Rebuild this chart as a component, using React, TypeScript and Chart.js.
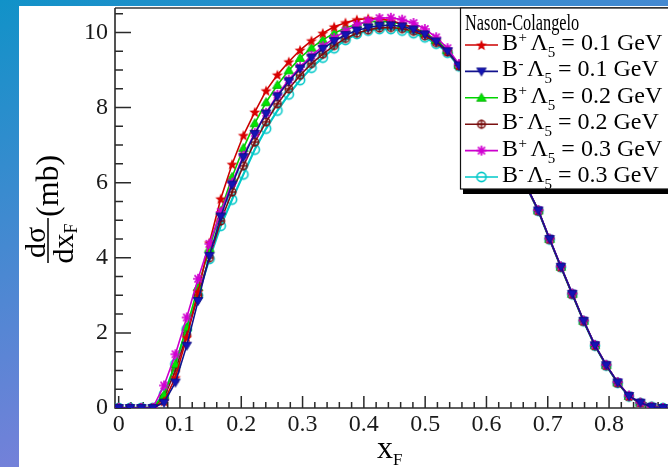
import React, { useEffect, useRef } from 'react';
import { Chart, registerables } from 'chart.js';
Chart.register(...registerables);

// x_F sampling points
const xF = [0, 0.0185, 0.037, 0.0555, 0.074, 0.0925, 0.111, 0.1295, 0.148, 0.1665, 0.185, 0.2035, 0.222, 0.2405, 0.259, 0.2775, 0.296, 0.3145, 0.333, 0.3515, 0.37, 0.3885, 0.407, 0.4255, 0.444, 0.4625, 0.481, 0.4995, 0.518, 0.5365, 0.555, 0.5735, 0.592, 0.6105, 0.629, 0.6475, 0.666, 0.6845, 0.703, 0.7215, 0.74, 0.7585, 0.777, 0.7955, 0.814, 0.8325, 0.851, 0.8695, 0.888, 0.9065];

const bPlus01 = [0, 0, 0, 0, 0.18, 0.81, 1.88, 3.10, 4.40, 5.57, 6.49, 7.26, 7.88, 8.45, 8.87, 9.22, 9.53, 9.78, 9.98, 10.15, 10.26, 10.34, 10.37, 10.36, 10.31, 10.23, 10.12, 9.97, 9.77, 9.50, 9.12, 8.64, 8.13, 7.59, 7.04, 6.47, 5.88, 5.26, 4.50, 3.76, 3.04, 2.32, 1.67, 1.14, 0.68, 0.32, 0.14, 0.03, 0, 0];
const bMinus01 = [0, 0, 0, 0, 0.14, 0.68, 1.66, 2.85, 4.05, 5.10, 5.95, 6.68, 7.30, 7.84, 8.30, 8.70, 9.04, 9.33, 9.57, 9.77, 9.93, 10.05, 10.13, 10.18, 10.19, 10.16, 10.08, 9.95, 9.76, 9.50, 9.12, 8.64, 8.13, 7.59, 7.04, 6.47, 5.88, 5.26, 4.50, 3.76, 3.04, 2.32, 1.67, 1.14, 0.68, 0.32, 0.14, 0.03, 0, 0];
const bPlus02 = [0, 0, 0, 0, 0.35, 1.17, 2.15, 3.22, 4.25, 5.25, 6.15, 6.92, 7.58, 8.14, 8.60, 8.99, 9.32, 9.59, 9.80, 9.98, 10.12, 10.22, 10.28, 10.30, 10.28, 10.22, 10.13, 9.99, 9.80, 9.53, 9.14, 8.65, 8.13, 7.59, 7.04, 6.47, 5.88, 5.26, 4.50, 3.76, 3.04, 2.32, 1.67, 1.14, 0.68, 0.32, 0.14, 0.03, 0, 0];
const bMinus02 = [0, 0, 0, 0, 0.28, 1.00, 1.95, 3.00, 4.00, 4.98, 5.75, 6.45, 7.08, 7.62, 8.10, 8.50, 8.86, 9.17, 9.42, 9.65, 9.84, 9.98, 10.07, 10.12, 10.13, 10.10, 10.03, 9.91, 9.73, 9.48, 9.11, 8.63, 8.12, 7.58, 7.03, 6.46, 5.87, 5.25, 4.49, 3.75, 3.03, 2.31, 1.66, 1.13, 0.67, 0.31, 0.13, 0.03, 0, 0];
const bPlus03 = [0, 0, 0, 0, 0.60, 1.43, 2.41, 3.44, 4.37, 5.22, 6.00, 6.72, 7.32, 7.86, 8.34, 8.74, 9.08, 9.38, 9.63, 9.85, 10.04, 10.20, 10.31, 10.38, 10.39, 10.34, 10.25, 10.09, 9.87, 9.58, 9.16, 8.66, 8.14, 7.60, 7.05, 6.48, 5.89, 5.27, 4.51, 3.77, 3.05, 2.33, 1.68, 1.15, 0.69, 0.33, 0.14, 0.03, 0, 0];
const bMinus03 = [0, 0, 0, 0, 0.37, 1.17, 2.10, 3.00, 3.97, 4.85, 5.55, 6.22, 6.88, 7.44, 7.92, 8.35, 8.73, 9.06, 9.33, 9.58, 9.80, 9.96, 10.05, 10.09, 10.09, 10.05, 9.98, 9.87, 9.70, 9.46, 9.10, 8.62, 8.12, 7.58, 7.03, 6.46, 5.87, 5.25, 4.49, 3.75, 3.03, 2.31, 1.66, 1.13, 0.67, 0.31, 0.13, 0.03, 0, 0];

const seriesValues = [bPlus01, bMinus01, bPlus02, bMinus02, bPlus03, bMinus03];
const charges = ['+', '-', '+', '-', '+', '-'];
const lambdas = ['0.1', '0.1', '0.2', '0.2', '0.3', '0.3'];
const lineColors = ['#cc0000', '#12128e', '#00d400', '#7a1010', '#cc00cc', '#00c8c8'];
const markerKinds = ['star5', 'triDown', 'triUp', 'circlePlus', 'asterisk', 'circle'];
const drawOrder = [2, 0, 3, 4, 1, 5];
const legendTitle = 'Nason-Colangelo';

const yMajor = [0, 2, 4, 6, 8, 10];
const FONT = '"Liberation Serif", "Times New Roman", serif';

function makeMarker(kind: string): HTMLCanvasElement {
  const s = 14;
  const c = document.createElement('canvas');
  c.width = s; c.height = s;
  const g = c.getContext('2d') as CanvasRenderingContext2D;
  const m = s / 2;
  g.lineJoin = 'round';
  if (kind === 'star5') {
    g.beginPath();
    for (let i = 0; i < 10; i++) {
      const r = i % 2 === 0 ? 5.8 : 2.5;
      const a = -Math.PI / 2 + (i * Math.PI) / 5;
      g.lineTo(m + r * Math.cos(a), m + 0.5 + r * Math.sin(a));
    }
    g.closePath();
    g.fillStyle = '#d80000';
    g.fill();
  } else if (kind === 'triDown') {
    g.beginPath();
    g.moveTo(m - 4.8, m - 3.4); g.lineTo(m + 4.8, m - 3.4); g.lineTo(m, m + 4.6);
    g.closePath();
    g.fillStyle = '#1414b4'; g.fill();
    g.strokeStyle = '#0a0a80'; g.lineWidth = 0.8; g.stroke();
  } else if (kind === 'triUp') {
    g.beginPath();
    g.moveTo(m - 4.8, m + 3.4); g.lineTo(m + 4.8, m + 3.4); g.lineTo(m, m - 4.6);
    g.closePath();
    g.fillStyle = '#00e400'; g.fill();
    g.strokeStyle = '#00a800'; g.lineWidth = 0.8; g.stroke();
  } else if (kind === 'circlePlus') {
    g.strokeStyle = '#7a1010'; g.lineWidth = 1.4;
    g.beginPath(); g.arc(m, m, 3.8, 0, Math.PI * 2); g.stroke();
    g.beginPath();
    g.moveTo(m - 3.8, m); g.lineTo(m + 3.8, m);
    g.moveTo(m, m - 4.6); g.lineTo(m, m + 4.6);
    g.stroke();
  } else if (kind === 'asterisk') {
    g.strokeStyle = '#d000d0'; g.lineWidth = 1.7;
    g.beginPath();
    for (let i = 0; i < 4; i++) {
      const a = (i * Math.PI) / 4;
      g.moveTo(m - 5 * Math.cos(a), m - 5 * Math.sin(a));
      g.lineTo(m + 5 * Math.cos(a), m + 5 * Math.sin(a));
    }
    g.stroke();
  } else {
    g.strokeStyle = '#00c8c8'; g.lineWidth = 1.6;
    g.beginPath(); g.arc(m, m, 4.6, 0, Math.PI * 2); g.stroke();
  }
  return c;
}

export default function App() {
  const ref = useRef<HTMLCanvasElement>(null);

  useEffect(() => {
    const canvas = ref.current as HTMLCanvasElement;
    const markers = markerKinds.map(makeMarker);

    const decor = {
      id: 'decor',
      beforeDatasetsDraw(chart: any) {
        const { ctx, chartArea: a, scales } = chart;
        const xs = scales.x, ys = scales.y;
        ctx.save();
        // top frame line
        ctx.strokeStyle = '#6a6a6a';
        ctx.lineWidth = 2;
        ctx.beginPath(); ctx.moveTo(a.left, a.top); ctx.lineTo(a.right + 40, a.top); ctx.stroke();
        // axes
        ctx.strokeStyle = '#2a2a2a';
        ctx.lineWidth = 1.6;
        ctx.beginPath();
        ctx.moveTo(a.left, a.top); ctx.lineTo(a.left, a.bottom); ctx.lineTo(a.right + 40, a.bottom);
        ctx.stroke();
        // y ticks (inward)
        ctx.lineWidth = 1.5;
        ctx.beginPath();
        for (let i = 0; i <= 21; i++) {
          const v = i * 0.5;
          const py = ys.getPixelForValue(v);
          const len = yMajor.includes(v) ? 16 : 8;
          ctx.moveTo(a.left, py); ctx.lineTo(a.left + len, py);
        }
        // x ticks (inward)
        for (let i = 0; i <= 47; i++) {
          const v = i * 0.02;
          const px = xs.getPixelForValue(v);
          const len = i % 5 === 0 ? 12 : 6;
          ctx.moveTo(px, a.bottom); ctx.lineTo(px, a.bottom - len);
        }
        ctx.stroke();
        ctx.restore();
      },
      afterDraw(chart: any) {
        const { ctx, chartArea: a } = chart;
        ctx.save();
        ctx.fillStyle = '#000';
        ctx.textBaseline = 'alphabetic';

        // Y axis title: d sigma / d x_F (mb)
        ctx.save();
        ctx.translate(29, 234.5);
        ctx.rotate(-Math.PI / 2);
        ctx.font = `30px ${FONT}`;
        ctx.textAlign = 'center';
        ctx.fillText('dσ', -2, -3);
        ctx.textAlign = 'left';
        ctx.fillText('dx', -23, 25);
        const wdx = ctx.measureText('dx').width;
        ctx.font = `18px ${FONT}`;
        ctx.fillText('F', -23 + wdx, 29);
        ctx.strokeStyle = '#000';
        ctx.lineWidth = 1.5;
        ctx.beginPath(); ctx.moveTo(-22.5, 0); ctx.lineTo(22.5, 0); ctx.stroke();
        ctx.font = `32px ${FONT}`;
        ctx.fillText('(mb)', 23.5, 10);
        ctx.restore();

        // X axis title: x_F
        ctx.font = `32px ${FONT}`;
        ctx.textAlign = 'left';
        const xt = a.left + 262;
        ctx.fillText('x', xt, 452);
        const wx = ctx.measureText('x').width;
        ctx.font = `17px ${FONT}`;
        ctx.fillText('F', xt + wx, 459);

        // Legend box
        const lx = 441, ly = a.top, lb = 183;
        ctx.fillStyle = '#000';
        ctx.fillRect(lx + 3, lb, 400, 5);
        ctx.fillStyle = '#fff';
        ctx.fillRect(lx, ly, 400, lb - ly);
        ctx.strokeStyle = '#111';
        ctx.lineWidth = 1.2;
        ctx.strokeRect(lx + 0.5, ly, 400, lb - ly);

        ctx.fillStyle = '#000';
        ctx.save();
        ctx.translate(446, 24);
        ctx.scale(0.71, 1);
        ctx.font = `23px ${FONT}`;
        ctx.fillText(legendTitle, 0, 0);
        ctx.restore();

        for (let i = 0; i < seriesValues.length; i++) {
          const base = 44 + 26.4 * i;
          const cy = base - 5;
          ctx.strokeStyle = lineColors[i];
          ctx.lineWidth = 1.6;
          ctx.beginPath(); ctx.moveTo(446, cy); ctx.lineTo(479, cy); ctx.stroke();
          const mk = markers[i];
          ctx.drawImage(mk, 462.5 - mk.width / 2, cy - mk.height / 2);
          ctx.fillStyle = '#000';
          let tx = 483;
          ctx.font = `24px ${FONT}`;
          ctx.fillText('B', tx, base);
          tx += ctx.measureText('B').width;
          ctx.font = `15px ${FONT}`;
          ctx.fillText(charges[i], tx + 0.5, base - 8);
          tx += ctx.measureText(charges[i]).width + 4;
          ctx.font = `24px ${FONT}`;
          ctx.fillText('Λ', tx, base);
          tx += ctx.measureText('Λ').width;
          ctx.font = `15px ${FONT}`;
          ctx.fillText('5', tx, base + 7);
          tx += ctx.measureText('5').width;
          ctx.font = `24px ${FONT}`;
          ctx.fillText(` = ${lambdas[i]} GeV`, tx, base);
        }
        ctx.restore();
      },
    };

    const datasets = seriesValues.map((vals, i) => ({
      label: `B${charges[i]} Λ5 = ${lambdas[i]} GeV`,
      data: xF.map((x, k) => ({ x, y: vals[k] })),
      borderColor: lineColors[i],
      backgroundColor: lineColors[i],
      borderWidth: i === 5 ? 2.2 : 1.6,
      pointStyle: markers[i] as any,
      pointRadius: 5,
      pointHoverRadius: 5,
      tension: 0,
      order: drawOrder[i],
    }));

    const chart = new Chart(canvas, {
      type: 'line',
      data: { datasets },
      options: {
        animation: false,
        responsive: false,
        devicePixelRatio: 1,
        layout: { autoPadding: false, padding: { top: 2, right: 18, left: 0, bottom: 0 } },
        plugins: { legend: { display: false }, tooltip: { enabled: false } },
        scales: {
          x: {
            type: 'linear',
            min: -0.006,
            max: 0.95,
            border: { display: false },
            grid: { display: false, drawTicks: false },
            ticks: {
              stepSize: 0.1,
              includeBounds: false,
              autoSkip: false,
              maxRotation: 0,
              padding: 2,
              color: '#1a1a1a',
              font: { family: FONT, size: 24 },
              callback: (v: any) => (v > 0.85 ? '' : v === 0 ? '0' : Number(v).toFixed(1)),
            },
            afterFit: (s: any) => { s.height = 59; s.paddingLeft = 0; s.paddingRight = 0; },
          },
          y: {
            type: 'linear',
            min: 0,
            max: 10.65,
            border: { display: false },
            grid: { display: false, drawTicks: false },
            ticks: {
              stepSize: 2,
              includeBounds: false,
              padding: 7,
              color: '#1a1a1a',
              font: { family: FONT, size: 24 },
            },
            afterFit: (s: any) => { s.width = 96; s.paddingTop = 0; s.paddingBottom = 0; },
          },
        },
      },
      plugins: [decor],
    } as any);

    return () => chart.destroy();
  }, []);

  return (
    <div
      style={{
        position: 'fixed',
        left: 0,
        top: 0,
        width: 668,
        height: 467,
        overflow: 'hidden',
        background: 'linear-gradient(160deg, #1192c8 0%, #7381d9 66%, #8e7cdd 100%)',
      }}
    >
      <div style={{ position: 'absolute', left: 19, top: 6, width: 700, height: 461, background: '#fff' }}>
        <canvas ref={ref} width={700} height={461} style={{ display: 'block', width: 700, height: 461 }} />
      </div>
    </div>
  );
}
